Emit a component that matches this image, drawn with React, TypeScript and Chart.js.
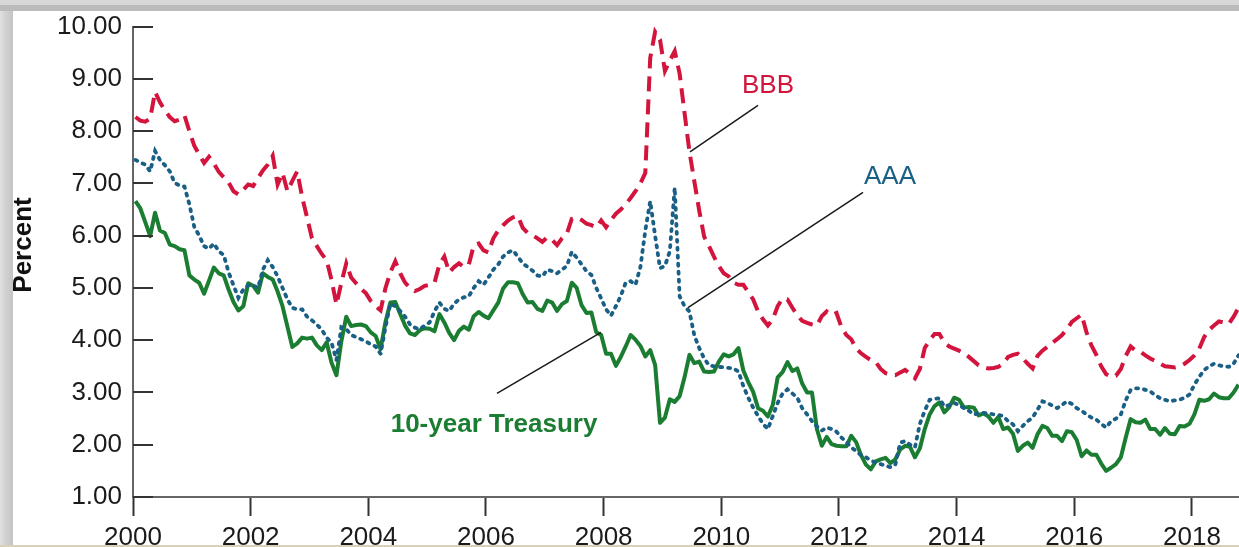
import React, { useEffect, useRef } from "react";
import { Chart, registerables } from "chart.js";

Chart.register(...registerables);

// Monthly yields in percent, January 2000 through October 2018.
const START_YEAR = 2000;

const TREASURY_10Y = [
  6.66, 6.52, 6.26, 5.99, 6.44, 6.10, 6.05, 5.83, 5.80, 5.74, 5.72, 5.24,
  5.16, 5.10, 4.89, 5.14, 5.39, 5.28, 5.24, 4.97, 4.73, 4.57, 4.65, 5.09,
  5.04, 4.91, 5.28, 5.21, 5.16, 4.93, 4.65, 4.26, 3.87, 3.94, 4.05, 4.03,
  4.05, 3.90, 3.81, 3.96, 3.57, 3.33, 3.98, 4.45, 4.27, 4.29, 4.30, 4.27,
  4.15, 4.08, 3.83, 4.35, 4.72, 4.73, 4.50, 4.28, 4.13, 4.10, 4.19, 4.23,
  4.22, 4.17, 4.50, 4.34, 4.14, 4.00, 4.18, 4.26, 4.20, 4.46, 4.54, 4.47,
  4.42, 4.57, 4.72, 4.99, 5.11, 5.11, 5.09, 4.88, 4.72, 4.73, 4.60, 4.56,
  4.76, 4.72, 4.56, 4.69, 4.75, 5.10, 5.00, 4.67, 4.52, 4.53, 4.15, 4.10,
  3.74, 3.74, 3.51, 3.68, 3.88, 4.10, 4.01, 3.89, 3.69, 3.81, 3.53, 2.42,
  2.52, 2.87, 2.82, 2.93, 3.29, 3.72, 3.56, 3.59, 3.40, 3.39, 3.40, 3.59,
  3.73, 3.69, 3.73, 3.85, 3.42, 3.20, 3.01, 2.70, 2.65, 2.54, 2.76, 3.29,
  3.39, 3.58, 3.41, 3.46, 3.17, 3.00, 3.00, 2.30, 1.98, 2.15, 2.01, 1.98,
  1.97, 1.97, 2.17, 2.05, 1.80, 1.62, 1.53, 1.68, 1.72, 1.75, 1.65, 1.72,
  1.91, 1.98, 1.96, 1.76, 1.93, 2.30, 2.58, 2.74, 2.81, 2.62, 2.72, 2.90,
  2.86, 2.71, 2.72, 2.71, 2.56, 2.60, 2.54, 2.42, 2.53, 2.30, 2.33, 2.21,
  1.88, 1.98, 2.04, 1.94, 2.20, 2.36, 2.32, 2.17, 2.17, 2.07, 2.26, 2.24,
  2.09, 1.78, 1.89, 1.81, 1.81, 1.64, 1.50, 1.56, 1.63, 1.76, 2.14, 2.49,
  2.43, 2.42, 2.48, 2.30, 2.30, 2.19, 2.32, 2.21, 2.20, 2.36, 2.35, 2.40,
  2.58, 2.86, 2.84, 2.87, 2.98, 2.91, 2.89, 2.89, 3.00, 3.15,
];

const AAA = [
  7.45, 7.40, 7.36, 7.23, 7.62, 7.45, 7.35, 7.23, 7.01, 6.96, 6.94, 6.60,
  6.17, 6.00, 5.80, 5.75, 5.85, 5.70, 5.63, 5.30, 5.05, 4.81, 4.97, 5.05,
  5.05, 5.00, 5.35, 5.53, 5.40, 5.22, 5.00, 4.78, 4.62, 4.59, 4.59, 4.45,
  4.38, 4.30, 4.20, 4.05, 3.95, 3.62, 4.25, 4.21, 4.10, 4.06, 4.02, 3.98,
  3.92, 3.88, 3.74, 4.25, 4.70, 4.65, 4.56, 4.45, 4.30, 4.24, 4.21, 4.28,
  4.34, 4.55, 4.72, 4.60, 4.56, 4.70, 4.78, 4.82, 4.84, 5.00, 5.13, 5.06,
  5.20, 5.35, 5.45, 5.60, 5.68, 5.72, 5.60, 5.47, 5.40, 5.33, 5.24, 5.22,
  5.35, 5.32, 5.28, 5.35, 5.42, 5.69, 5.58, 5.45, 5.32, 5.25, 5.00, 4.80,
  4.59, 4.47, 4.65, 4.85, 5.10, 5.13, 5.06, 5.40, 6.10, 6.66, 6.00, 5.38,
  5.42, 5.70, 6.92, 4.84, 4.65, 4.55, 4.09, 3.85, 3.65, 3.52, 3.50, 3.49,
  3.48, 3.47, 3.46, 3.40, 3.12, 2.90, 2.71, 2.55, 2.40, 2.30, 2.55, 2.80,
  2.98, 3.06, 2.98, 2.90, 2.70, 2.58, 2.45, 2.35, 2.27, 2.33, 2.30, 2.25,
  2.14, 2.05, 1.95, 1.88, 1.80, 1.76, 1.70, 1.66, 1.63, 1.60, 1.57, 1.62,
  2.04, 2.07, 2.00, 1.95, 2.40, 2.65, 2.86, 2.88, 2.89, 2.73, 2.76, 2.80,
  2.76, 2.70, 2.65, 2.58, 2.60, 2.61, 2.60, 2.58, 2.57, 2.55, 2.45, 2.39,
  2.26, 2.36, 2.45, 2.52, 2.67, 2.83, 2.80, 2.75, 2.70, 2.76, 2.83, 2.78,
  2.70, 2.65, 2.58, 2.52, 2.48, 2.40, 2.33, 2.45, 2.50, 2.58, 2.85, 3.05,
  3.08, 3.08, 3.05, 3.02, 2.95, 2.89, 2.86, 2.83, 2.85, 2.86, 2.90, 2.96,
  3.15, 3.30, 3.43, 3.50, 3.55, 3.52, 3.50, 3.49, 3.55, 3.71,
];

const BBB = [
  8.27, 8.20, 8.18, 8.24, 8.75, 8.55, 8.40, 8.27, 8.19, 8.22, 8.30, 8.00,
  7.72, 7.55, 7.39, 7.51, 7.38, 7.22, 7.12, 7.02, 6.85, 6.79, 6.88, 6.98,
  6.95, 7.10, 7.25, 7.36, 7.53, 6.98, 7.20, 6.85, 7.05, 7.23, 6.74, 6.35,
  5.95, 5.80, 5.65, 5.53, 5.15, 4.68, 5.10, 5.47, 5.20, 5.09, 4.98, 4.90,
  4.75, 4.65, 4.57, 5.00, 5.30, 5.51, 5.28, 5.10, 5.00, 4.94, 4.98, 5.04,
  5.06, 5.10, 5.45, 5.60, 5.30, 5.40, 5.47, 5.40, 5.45, 5.81, 5.85, 5.72,
  5.68, 5.95, 6.10, 6.20, 6.29, 6.35, 6.38, 6.15, 6.05, 6.01, 5.95, 5.88,
  5.97, 5.92, 5.82, 5.95, 6.04, 6.32, 6.35, 6.30, 6.23, 6.20, 6.16, 6.29,
  6.16, 6.30, 6.42, 6.50, 6.60, 6.72, 6.85, 7.00, 7.20, 9.40, 9.90, 9.75,
  9.15, 9.35, 9.53, 9.10, 8.35, 7.61, 7.04, 6.48, 5.98, 5.80, 5.60, 5.42,
  5.28, 5.22, 5.10, 5.06, 5.06, 4.92, 4.78, 4.55, 4.40, 4.28, 4.40, 4.65,
  4.80, 4.78, 4.62, 4.48, 4.37, 4.33, 4.30, 4.28, 4.46, 4.55, 4.48, 4.52,
  4.25, 4.10, 4.02, 3.84, 3.75, 3.68, 3.62, 3.58, 3.45, 3.37, 3.35, 3.33,
  3.38, 3.43, 3.35, 3.27, 3.45, 3.85, 4.00, 4.12, 4.12, 3.95, 3.88, 3.84,
  3.80, 3.75, 3.68, 3.60, 3.52, 3.48, 3.46, 3.47, 3.49, 3.55, 3.68, 3.72,
  3.74, 3.65, 3.55, 3.46, 3.70, 3.80, 3.87, 3.95, 4.02, 4.10, 4.21, 4.35,
  4.42, 4.49, 4.15, 3.90, 3.72, 3.50, 3.35, 3.30, 3.32, 3.45, 3.70, 3.88,
  3.80, 3.78, 3.71, 3.65, 3.60, 3.55, 3.50, 3.49, 3.48, 3.50, 3.55, 3.62,
  3.71, 3.84, 4.06, 4.20, 4.28, 4.36, 4.34, 4.31, 4.45, 4.62,
];

const X_TICKS = [2000, 2002, 2004, 2006, 2008, 2010, 2012, 2014, 2016, 2018];
const Y_TICKS = [1, 2, 3, 4, 5, 6, 7, 8, 9, 10];

const RED = "#d3143d";
const BLUE = "#1a5f86";
const GREEN = "#1b7d32";
const FONT = "'Liberation Sans', Arial, Helvetica, sans-serif";

// Series labels with their leader lines, in data coordinates (year, percent).
const CALLOUTS = [
  { text: "BBB", color: RED, bold: false, at: [2010.352, 8.736], line: [[2010.624, 8.491], [2009.468, 7.604]] },
  { text: "AAA", color: BLUE, bold: false, at: [2012.426, 6.981], line: [[2012.409, 6.83], [2009.434, 4.623]] },
  { text: "10-year Treasury", color: GREEN, bold: true, at: [2004.38, 2.245], line: [[2006.187, 2.981], [2007.955, 4.151]] },
];

const monthly = (values: number[]) =>
  values.map((v, i) => ({ x: START_YEAR + (i + 0.5) / 12, y: v }));

const framePlugin = {
  id: "frame",
  beforeDraw(chart: any) {
    const { ctx, width, height } = chart;
    ctx.save();
    ctx.fillStyle = "#ffffff";
    ctx.fillRect(0, 0, width, height);
    // top bar
    ctx.fillStyle = "#d8d8d8";
    ctx.fillRect(0, 0, width, 5);
    ctx.fillStyle = "#bbbbbb";
    ctx.fillRect(0, 5, width, 6);
    // left border
    const g = ctx.createLinearGradient(0, 0, 13, 0);
    g.addColorStop(0, "#e2e2e2");
    g.addColorStop(0.4, "#d2d2d2");
    g.addColorStop(1, "#c4c4c4");
    ctx.fillStyle = g;
    ctx.fillRect(0, 11, 13, height - 11);
    // bottom strip
    ctx.fillStyle = "#d8d0b8";
    ctx.fillRect(0, height - 2, width, 2);
    ctx.restore();
  },
  afterDraw(chart: any) {
    const { ctx, chartArea, scales } = chart;
    const xs = scales.x;
    const ys = scales.y;
    ctx.save();
    // inward y-axis tick marks
    ctx.strokeStyle = "#333333";
    ctx.lineWidth = 2;
    Y_TICKS.forEach((v) => {
      const y = Math.round(ys.getPixelForValue(v));
      ctx.beginPath();
      ctx.moveTo(chartArea.left, y);
      ctx.lineTo(chartArea.left + 20, y);
      ctx.stroke();
    });
    // callouts
    CALLOUTS.forEach((c) => {
      ctx.strokeStyle = "#1a1a1a";
      ctx.lineWidth = 1.5;
      ctx.beginPath();
      ctx.moveTo(xs.getPixelForValue(c.line[0][0]), ys.getPixelForValue(c.line[0][1]));
      ctx.lineTo(xs.getPixelForValue(c.line[1][0]), ys.getPixelForValue(c.line[1][1]));
      ctx.stroke();
      ctx.fillStyle = c.color;
      ctx.font = `${c.bold ? "bold " : ""}26px ${FONT}`;
      ctx.textAlign = "left";
      ctx.textBaseline = "alphabetic";
      ctx.fillText(c.text, xs.getPixelForValue(c.at[0]), ys.getPixelForValue(c.at[1]));
    });
    // y-axis title
    ctx.translate(24, 245);
    ctx.rotate(-Math.PI / 2);
    ctx.fillStyle = "#111111";
    ctx.font = `bold 26px ${FONT}`;
    ctx.textAlign = "center";
    ctx.textBaseline = "middle";
    ctx.fillText("Percent", 0, 0);
    ctx.restore();
  },
};

export default function App() {
  const canvasRef = useRef<HTMLCanvasElement | null>(null);

  useEffect(() => {
    const canvas = canvasRef.current;
    if (!canvas) return;
    const chart = new Chart(canvas, {
      type: "line",
      data: {
        datasets: [
          {
            label: "BBB",
            data: monthly(BBB),
            borderColor: RED,
            borderWidth: 4,
            borderDash: [15, 8],
            borderCapStyle: "butt",
            pointRadius: 0,
            tension: 0,
            fill: false,
          },
          {
            label: "AAA",
            data: monthly(AAA),
            borderColor: BLUE,
            borderWidth: 3.8,
            borderDash: [2, 6],
            borderCapStyle: "round",
            pointRadius: 0,
            tension: 0,
            fill: false,
          },
          {
            label: "10-year Treasury",
            data: monthly(TREASURY_10Y),
            borderColor: GREEN,
            borderWidth: 4,
            borderJoinStyle: "round",
            pointRadius: 0,
            tension: 0,
            fill: false,
          },
        ],
      },
      options: {
        responsive: false,
        animation: false,
        devicePixelRatio: 1,
        layout: { padding: { top: 20, left: 0, right: 0, bottom: 0 } },
        plugins: { legend: { display: false }, tooltip: { enabled: false } },
        scales: {
          x: {
            type: "linear",
            min: 2000,
            max: 2018.8,
            afterBuildTicks: (s: any) => {
              s.ticks = X_TICKS.map((v) => ({ value: v }));
            },
            afterFit: (s: any) => {
              s.height = 50;
            },
            grid: {
              display: true,
              drawOnChartArea: false,
              drawTicks: true,
              tickLength: 19,
              tickColor: "#333333",
              tickWidth: 2,
            },
            border: { display: true, color: "#666666", width: 2 },
            ticks: {
              font: { size: 26, family: FONT },
              color: "#1a1a1a",
              padding: 6,
              maxRotation: 0,
              autoSkip: false,
              callback: (v: any) => String(v),
            },
          },
          y: {
            type: "linear",
            min: 1,
            max: 10,
            afterBuildTicks: (s: any) => {
              s.ticks = Y_TICKS.map((v) => ({ value: v }));
            },
            afterFit: (s: any) => {
              s.width = 133;
            },
            grid: { display: false, drawTicks: false },
            border: { display: true, color: "#666666", width: 2 },
            ticks: {
              font: { size: 26, family: FONT },
              color: "#1a1a1a",
              padding: 11,
              callback: (v: any) => Number(v).toFixed(2),
            },
          },
        },
      },
      plugins: [framePlugin],
    });
    return () => chart.destroy();
  }, []);

  return (
    <div style={{ position: "absolute", left: 0, top: 0, width: 1239, height: 547 }}>
      <canvas ref={canvasRef} width={1239} height={547} style={{ display: "block" }} />
    </div>
  );
}
